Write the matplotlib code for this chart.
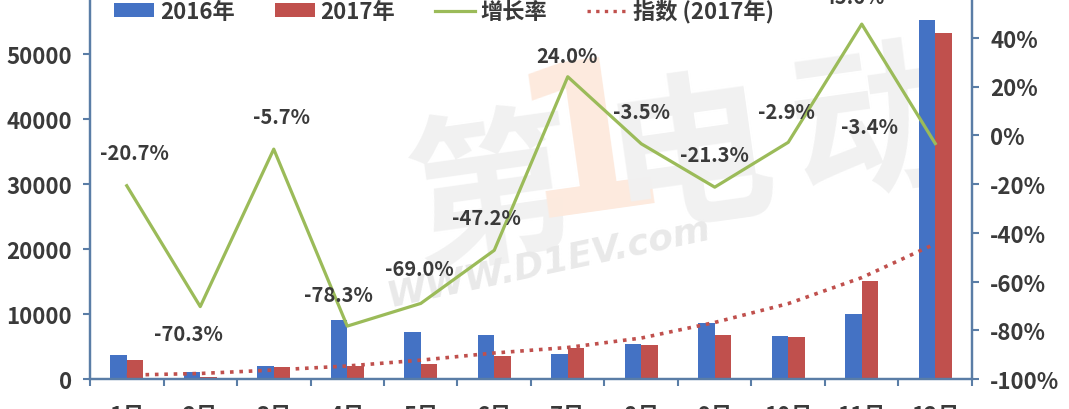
import matplotlib
matplotlib.use("Agg")
import matplotlib.pyplot as plt
from matplotlib.patches import Patch
from matplotlib.lines import Line2D
import numpy as np

plt.rcParams['font.family'] = ['Noto Sans CJK SC', 'DejaVu Sans']

months = ["1月", "2月", "3月", "4月", "5月", "6月", "7月", "8月", "9月", "10月", "11月", "12月"]
sales_2016 = [3700, 1100, 1950, 9100, 7300, 6800, 3800, 5400, 8600, 6600, 10000, 55200]
sales_2017 = [2950, 330, 1850, 1980, 2250, 3600, 4700, 5200, 6700, 6400, 15100, 53300]
growth = [-20.7, -70.3, -5.7, -78.3, -69.0, -47.2, 24.0, -3.5, -21.3, -2.9, 45.6, -3.4]
growth_labels = ["-20.7%", "-70.3%", "-5.7%", "-78.3%", "-69.0%", "-47.2%", "24.0%",
                 "-3.5%", "-21.3%", "-2.9%", "45.6%", "-3.4%"]
index_2017 = [600, 850, 1380, 2000, 2900, 4000, 4850, 6300, 8700, 11600, 15600, 20800]
left_ticks = [0, 10000, 20000, 30000, 40000, 50000]
right_ticks = [-100, -80, -60, -40, -20, 0, 20, 40]
legend_labels = ["2016年", "2017年", "增长率", "指数 (2017年)"]

# label offsets in pixels (dx, dy up positive)
label_offsets = [(8, 33), (-12, -27), (8, 33), (-9, 32), (-1, 35), (-8, 33), (-1, 21),
                 (0, 32), (0, 33), (-2, 31), (-7, 28), (-66, 17)]

BLUE = "#4472C4"
RED = "#C0504D"
GREEN = "#9BBB59"
AXC = "#5A7DA6"
TXT = "#3a3a3a"
FW = 'bold'

W, H = 1069, 410
fig = plt.figure(figsize=(W / 100, H / 100), dpi=100)

# watermark (behind everything)
wm = dict(fontsize=120, fontweight='bold', zorder=-5, ha='center', va='center')
fig.text(492 / W, 1 - 200 / H, "第", color="#f1f1f1", rotation=8, **wm)
fig.text(588 / W, 1 - 150 / H, "1", color="#fdeade", rotation=8,
         family='DejaVu Sans', fontsize=150, fontweight='bold', ha='center', va='center', zorder=-5)
fig.text(690 / W, 1 - 160 / H, "电", color="#f1f1f1", rotation=8, **wm)
fig.text(875 / W, 1 - 130 / H, "动", color="#f1f1f1", rotation=8, **wm)
fig.text(548 / W, 1 - 262 / H, "WWW.D1EV.com", color="#e9e9e9", rotation=12,
         family='DejaVu Sans', fontsize=26, fontweight='bold', style='italic',
         ha='center', va='center', zorder=-5)

left, right, bottom, top = 90, 972, 380, -10
ax = fig.add_axes([left / W, 1 - bottom / H, (right - left) / W, (bottom - top) / H])
ax.patch.set_visible(False)
ax2 = ax.twinx()
ax2.patch.set_visible(False)

x = np.arange(len(months))
bw = 0.225
ax.bar(x - bw / 2, sales_2016, width=bw, color=BLUE, zorder=2)
ax.bar(x + bw / 2, sales_2017, width=bw, color=RED, zorder=2)
ax.plot(x, index_2017, color=RED, lw=2.6, linestyle=(0, (1, 1.6)), zorder=3)
ax.set_ylim(0, 60000)
ax.set_xlim(-0.5, len(months) - 0.5)
ax.set_yticks(left_ticks)
ax.set_yticklabels([str(v) for v in left_ticks], fontweight=FW)

ax2.plot(x, growth, color=GREEN, lw=2.3, zorder=4)
ax2.set_ylim(-100, 60)
ax2.set_yticks(right_ticks)
ax2.set_yticklabels([f"{v}%" for v in right_ticks], fontweight=FW)

for i, (lab, (dx, dy)) in enumerate(zip(growth_labels, label_offsets)):
    ax2.annotate(lab, xy=(x[i], growth[i]), xytext=(dx * 0.72, dy * 0.72),
                 textcoords='offset points', ha='center', va='center',
                 fontsize=14.5, color=TXT, fontweight=FW, zorder=6)

# x axis ticks at boundaries, labels at centers
ax.set_xticks(np.arange(-0.5, len(months), 1.0))
ax.set_xticklabels([])
ax.set_xticks(x, minor=True)
ax.set_xticklabels(months, minor=True, fontweight=FW)
ax.tick_params(axis='x', which='major', direction='out', length=5, width=1.5, color=AXC)
ax.tick_params(axis='x', which='minor', length=0, pad=18, labelsize=16, labelcolor=TXT)
ax.tick_params(axis='y', direction='out', length=5, width=1.5, color=AXC,
               labelsize=16, labelcolor=TXT, pad=8)
ax2.tick_params(axis='y', direction='out', length=5, width=1.5, color=AXC,
                labelsize=16, labelcolor=TXT, pad=8)

for a in (ax, ax2):
    for s in a.spines.values():
        s.set_color(AXC)
        s.set_linewidth(1.6)
    a.spines['top'].set_visible(False)

handles = [Patch(facecolor=BLUE), Patch(facecolor=RED),
           Line2D([], [], color=GREEN, lw=2.3),
           Line2D([], [], color=RED, lw=2.4, linestyle=(0, (1, 1.6)))]
leg = fig.legend(handles, legend_labels, loc='center', bbox_to_anchor=(444 / W, 1 - 12 / H),
                 ncol=4, frameon=False, fontsize=16, handlelength=1.8, handleheight=0.55,
                 columnspacing=1.8, handletextpad=0.25, labelcolor=TXT,
                 prop={'weight': FW, 'size': 16})

fig.savefig("out.png", dpi=100)
